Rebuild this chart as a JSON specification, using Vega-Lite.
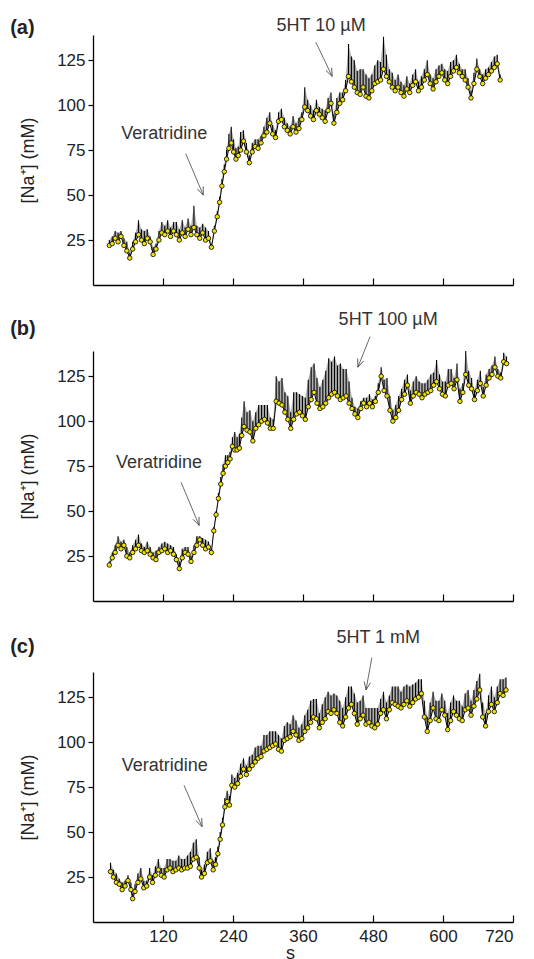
{
"$schema": "https://vega.github.io/schema/vega-lite/v6.json",
"padding": {"left": 10, "top": 17, "right": 5, "bottom": 5},
"background": "white",
"config": {
  "font": "Liberation Sans",
  "view": {"stroke": null},
  "axis": {"domainColor": "#000", "tickColor": "#000", "labelColor": "#222", "titleColor": "#222", "labelFontSize": 17, "titleFontSize": 18, "titleFontWeight": "normal", "grid": false, "domainWidth": 1.3, "tickWidth": 1.2}
},
"datasets": {
  "a": [
{"t":28,"y":22,"hi":25},{"t":33,"y":23,"hi":27},{"t":38,"y":26,"hi":30},{"t":43,"y":24,"hi":29},{"t":48,"y":27,"hi":30},{"t":53,"y":22,"hi":26},{"t":58,"y":19,"hi":24},{"t":63,"y":15,"hi":18},{"t":68,"y":20,"hi":24},{"t":73,"y":24,"hi":29},{"t":78,"y":28,"hi":36},{"t":83,"y":25,"hi":31},{"t":88,"y":23,"hi":30},{"t":93,"y":26,"hi":31},{"t":98,"y":24,"hi":27},{"t":103,"y":17,"hi":21},{"t":108,"y":20,"hi":23},{"t":113,"y":25,"hi":30},{"t":118,"y":29,"hi":35},{"t":123,"y":28,"hi":33},{"t":128,"y":30,"hi":36},{"t":133,"y":27,"hi":32},{"t":138,"y":30,"hi":35},{"t":143,"y":28,"hi":35},{"t":148,"y":25,"hi":31},{"t":153,"y":29,"hi":36},{"t":158,"y":27,"hi":32},{"t":163,"y":31,"hi":37},{"t":168,"y":28,"hi":33},{"t":173,"y":32,"hi":44},{"t":178,"y":28,"hi":33},{"t":183,"y":26,"hi":32},{"t":188,"y":29,"hi":34},{"t":193,"y":25,"hi":32},{"t":198,"y":26,"hi":30},{"t":203,"y":21,"hi":23},{"t":208,"y":30,"hi":33},{"t":213,"y":38,"hi":41},{"t":217,"y":46,"hi":49},{"t":221,"y":55,"hi":59},{"t":225,"y":63,"hi":67},{"t":229,"y":70,"hi":75},{"t":233,"y":76,"hi":84},{"t":237,"y":79,"hi":88},{"t":241,"y":74,"hi":81},{"t":245,"y":70,"hi":76},{"t":249,"y":72,"hi":77},{"t":253,"y":75,"hi":85},{"t":258,"y":80,"hi":86},{"t":263,"y":74,"hi":79},{"t":268,"y":68,"hi":72},{"t":273,"y":74,"hi":79},{"t":278,"y":77,"hi":81},{"t":283,"y":76,"hi":81},{"t":288,"y":79,"hi":83},{"t":293,"y":83,"hi":88},{"t":298,"y":85,"hi":93},{"t":303,"y":90,"hi":96},{"t":308,"y":84,"hi":89},{"t":313,"y":82,"hi":86},{"t":318,"y":91,"hi":96},{"t":323,"y":92,"hi":98},{"t":328,"y":88,"hi":93},{"t":333,"y":86,"hi":90},{"t":338,"y":84,"hi":88},{"t":343,"y":88,"hi":94},{"t":348,"y":85,"hi":90},{"t":353,"y":87,"hi":93},{"t":358,"y":92,"hi":96},{"t":363,"y":99,"hi":110},{"t":368,"y":97,"hi":103},{"t":373,"y":94,"hi":100},{"t":378,"y":92,"hi":97},{"t":383,"y":97,"hi":103},{"t":388,"y":95,"hi":99},{"t":393,"y":93,"hi":98},{"t":398,"y":91,"hi":97},{"t":403,"y":97,"hi":104},{"t":408,"y":101,"hi":107},{"t":413,"y":90,"hi":95},{"t":418,"y":96,"hi":104},{"t":423,"y":101,"hi":107},{"t":428,"y":103,"hi":107},{"t":433,"y":108,"hi":114},{"t":438,"y":116,"hi":134},{"t":443,"y":113,"hi":127},{"t":448,"y":110,"hi":125},{"t":453,"y":107,"hi":119},{"t":458,"y":106,"hi":120},{"t":463,"y":110,"hi":120},{"t":468,"y":105,"hi":117},{"t":473,"y":104,"hi":115},{"t":478,"y":108,"hi":117},{"t":483,"y":112,"hi":122},{"t":488,"y":113,"hi":125},{"t":493,"y":114,"hi":124},{"t":498,"y":120,"hi":138},{"t":503,"y":116,"hi":128},{"t":508,"y":113,"hi":120},{"t":513,"y":110,"hi":118},{"t":518,"y":108,"hi":114},{"t":523,"y":110,"hi":117},{"t":528,"y":107,"hi":113},{"t":533,"y":105,"hi":111},{"t":538,"y":109,"hi":116},{"t":543,"y":107,"hi":112},{"t":548,"y":111,"hi":117},{"t":553,"y":113,"hi":120},{"t":558,"y":108,"hi":113},{"t":563,"y":110,"hi":116},{"t":568,"y":114,"hi":120},{"t":573,"y":117,"hi":125},{"t":578,"y":112,"hi":117},{"t":583,"y":109,"hi":115},{"t":588,"y":113,"hi":120},{"t":593,"y":116,"hi":122},{"t":598,"y":118,"hi":123},{"t":603,"y":114,"hi":120},{"t":608,"y":112,"hi":119},{"t":613,"y":116,"hi":124},{"t":618,"y":119,"hi":125},{"t":623,"y":121,"hi":128},{"t":628,"y":118,"hi":123},{"t":633,"y":116,"hi":120},{"t":638,"y":114,"hi":120},{"t":643,"y":110,"hi":115},{"t":648,"y":104,"hi":108},{"t":653,"y":112,"hi":118},{"t":658,"y":120,"hi":126},{"t":663,"y":116,"hi":120},{"t":668,"y":112,"hi":117},{"t":673,"y":115,"hi":120},{"t":678,"y":117,"hi":121},{"t":683,"y":119,"hi":124},{"t":688,"y":121,"hi":127},{"t":693,"y":123,"hi":128},{"t":698,"y":114,"hi":117}
  ],
  "b": [
{"t":28,"y":20,"hi":22},{"t":33,"y":24,"hi":27},{"t":38,"y":27,"hi":31},{"t":43,"y":31,"hi":36},{"t":48,"y":29,"hi":33},{"t":53,"y":31,"hi":34},{"t":58,"y":25,"hi":30},{"t":63,"y":24,"hi":27},{"t":68,"y":27,"hi":31},{"t":73,"y":29,"hi":34},{"t":78,"y":31,"hi":37},{"t":83,"y":28,"hi":32},{"t":88,"y":27,"hi":30},{"t":93,"y":28,"hi":33},{"t":98,"y":26,"hi":30},{"t":103,"y":24,"hi":27},{"t":108,"y":23,"hi":28},{"t":113,"y":27,"hi":30},{"t":118,"y":28,"hi":32},{"t":123,"y":29,"hi":33},{"t":128,"y":27,"hi":32},{"t":133,"y":28,"hi":31},{"t":138,"y":26,"hi":30},{"t":143,"y":23,"hi":26},{"t":148,"y":18,"hi":22},{"t":153,"y":24,"hi":29},{"t":158,"y":27,"hi":30},{"t":163,"y":26,"hi":30},{"t":168,"y":22,"hi":25},{"t":173,"y":27,"hi":31},{"t":178,"y":31,"hi":36},{"t":183,"y":34,"hi":36},{"t":188,"y":31,"hi":35},{"t":193,"y":29,"hi":34},{"t":198,"y":30,"hi":33},{"t":203,"y":27,"hi":29},{"t":207,"y":39,"hi":41},{"t":211,"y":48,"hi":50},{"t":215,"y":57,"hi":60},{"t":219,"y":65,"hi":69},{"t":223,"y":71,"hi":76},{"t":227,"y":75,"hi":81},{"t":231,"y":77,"hi":81},{"t":235,"y":79,"hi":83},{"t":239,"y":86,"hi":91},{"t":243,"y":84,"hi":94},{"t":247,"y":84,"hi":91},{"t":251,"y":85,"hi":93},{"t":255,"y":92,"hi":102},{"t":259,"y":97,"hi":111},{"t":264,"y":95,"hi":105},{"t":269,"y":94,"hi":106},{"t":274,"y":89,"hi":100},{"t":279,"y":96,"hi":105},{"t":284,"y":98,"hi":109},{"t":289,"y":100,"hi":109},{"t":294,"y":101,"hi":109},{"t":299,"y":99,"hi":109},{"t":304,"y":96,"hi":102},{"t":309,"y":96,"hi":101},{"t":314,"y":111,"hi":125},{"t":319,"y":110,"hi":122},{"t":324,"y":109,"hi":124},{"t":329,"y":105,"hi":116},{"t":334,"y":101,"hi":114},{"t":339,"y":96,"hi":105},{"t":344,"y":101,"hi":116},{"t":349,"y":104,"hi":116},{"t":354,"y":105,"hi":115},{"t":359,"y":103,"hi":114},{"t":364,"y":101,"hi":113},{"t":369,"y":108,"hi":123},{"t":374,"y":112,"hi":130},{"t":379,"y":116,"hi":132},{"t":384,"y":110,"hi":124},{"t":389,"y":107,"hi":119},{"t":394,"y":108,"hi":123},{"t":399,"y":110,"hi":128},{"t":404,"y":113,"hi":135},{"t":409,"y":115,"hi":133},{"t":414,"y":116,"hi":136},{"t":419,"y":114,"hi":131},{"t":424,"y":112,"hi":132},{"t":429,"y":113,"hi":129},{"t":434,"y":114,"hi":129},{"t":439,"y":110,"hi":122},{"t":444,"y":107,"hi":113},{"t":449,"y":104,"hi":108},{"t":454,"y":102,"hi":107},{"t":459,"y":107,"hi":111},{"t":464,"y":110,"hi":113},{"t":469,"y":108,"hi":113},{"t":474,"y":110,"hi":115},{"t":479,"y":108,"hi":112},{"t":484,"y":111,"hi":114},{"t":489,"y":116,"hi":121},{"t":494,"y":125,"hi":130},{"t":499,"y":117,"hi":123},{"t":504,"y":114,"hi":124},{"t":509,"y":106,"hi":114},{"t":514,"y":100,"hi":106},{"t":519,"y":102,"hi":109},{"t":524,"y":106,"hi":114},{"t":529,"y":112,"hi":118},{"t":534,"y":115,"hi":123},{"t":539,"y":120,"hi":126},{"t":544,"y":110,"hi":117},{"t":549,"y":114,"hi":122},{"t":554,"y":116,"hi":125},{"t":559,"y":115,"hi":122},{"t":564,"y":113,"hi":121},{"t":569,"y":115,"hi":121},{"t":574,"y":116,"hi":123},{"t":579,"y":117,"hi":126},{"t":584,"y":120,"hi":127},{"t":589,"y":122,"hi":134},{"t":594,"y":118,"hi":126},{"t":599,"y":115,"hi":122},{"t":604,"y":114,"hi":122},{"t":609,"y":120,"hi":129},{"t":614,"y":121,"hi":129},{"t":619,"y":118,"hi":124},{"t":624,"y":123,"hi":132},{"t":629,"y":111,"hi":118},{"t":634,"y":116,"hi":121},{"t":639,"y":126,"hi":139},{"t":644,"y":120,"hi":128},{"t":649,"y":118,"hi":124},{"t":654,"y":112,"hi":117},{"t":659,"y":117,"hi":123},{"t":664,"y":121,"hi":128},{"t":669,"y":114,"hi":119},{"t":674,"y":120,"hi":126},{"t":679,"y":124,"hi":129},{"t":684,"y":126,"hi":131},{"t":689,"y":130,"hi":136},{"t":694,"y":125,"hi":129},{"t":699,"y":124,"hi":127},{"t":704,"y":133,"hi":138},{"t":709,"y":132,"hi":136}
  ],
  "c": [
{"t":30,"y":28,"hi":33},{"t":35,"y":25,"hi":29},{"t":40,"y":22,"hi":27},{"t":45,"y":21,"hi":24},{"t":50,"y":18,"hi":22},{"t":55,"y":20,"hi":23},{"t":60,"y":23,"hi":26},{"t":65,"y":18,"hi":22},{"t":68,"y":13,"hi":16},{"t":72,"y":17,"hi":21},{"t":77,"y":22,"hi":27},{"t":82,"y":24,"hi":30},{"t":87,"y":19,"hi":23},{"t":92,"y":20,"hi":23},{"t":97,"y":25,"hi":30},{"t":102,"y":22,"hi":26},{"t":107,"y":26,"hi":31},{"t":112,"y":29,"hi":35},{"t":117,"y":26,"hi":30},{"t":122,"y":25,"hi":30},{"t":127,"y":29,"hi":35},{"t":132,"y":30,"hi":35},{"t":137,"y":28,"hi":34},{"t":142,"y":29,"hi":34},{"t":147,"y":30,"hi":37},{"t":152,"y":29,"hi":35},{"t":157,"y":30,"hi":35},{"t":162,"y":30,"hi":37},{"t":167,"y":31,"hi":39},{"t":172,"y":35,"hi":44},{"t":177,"y":36,"hi":46},{"t":182,"y":30,"hi":36},{"t":186,"y":25,"hi":29},{"t":191,"y":27,"hi":32},{"t":196,"y":33,"hi":39},{"t":201,"y":34,"hi":41},{"t":206,"y":29,"hi":34},{"t":210,"y":32,"hi":36},{"t":214,"y":38,"hi":42},{"t":218,"y":46,"hi":50},{"t":222,"y":54,"hi":58},{"t":226,"y":64,"hi":69},{"t":230,"y":67,"hi":73},{"t":234,"y":65,"hi":70},{"t":238,"y":76,"hi":82},{"t":243,"y":75,"hi":80},{"t":248,"y":77,"hi":83},{"t":253,"y":81,"hi":88},{"t":258,"y":85,"hi":91},{"t":263,"y":82,"hi":87},{"t":268,"y":85,"hi":92},{"t":273,"y":87,"hi":93},{"t":278,"y":89,"hi":97},{"t":283,"y":91,"hi":98},{"t":288,"y":92,"hi":98},{"t":293,"y":95,"hi":104},{"t":298,"y":96,"hi":104},{"t":303,"y":97,"hi":106},{"t":308,"y":98,"hi":106},{"t":313,"y":99,"hi":106},{"t":318,"y":96,"hi":104},{"t":323,"y":95,"hi":102},{"t":328,"y":101,"hi":109},{"t":333,"y":102,"hi":111},{"t":338,"y":103,"hi":110},{"t":343,"y":106,"hi":115},{"t":348,"y":104,"hi":112},{"t":353,"y":101,"hi":108},{"t":358,"y":102,"hi":110},{"t":363,"y":106,"hi":115},{"t":368,"y":108,"hi":118},{"t":373,"y":111,"hi":123},{"t":378,"y":114,"hi":124},{"t":383,"y":113,"hi":124},{"t":388,"y":108,"hi":116},{"t":393,"y":111,"hi":121},{"t":398,"y":113,"hi":125},{"t":403,"y":117,"hi":128},{"t":408,"y":116,"hi":126},{"t":413,"y":118,"hi":127},{"t":418,"y":116,"hi":126},{"t":423,"y":111,"hi":123},{"t":428,"y":109,"hi":119},{"t":433,"y":114,"hi":125},{"t":438,"y":119,"hi":131},{"t":443,"y":121,"hi":131},{"t":448,"y":116,"hi":127},{"t":453,"y":110,"hi":122},{"t":458,"y":113,"hi":123},{"t":463,"y":115,"hi":126},{"t":468,"y":110,"hi":119},{"t":473,"y":111,"hi":119},{"t":478,"y":109,"hi":119},{"t":483,"y":108,"hi":119},{"t":488,"y":110,"hi":119},{"t":493,"y":116,"hi":124},{"t":498,"y":118,"hi":128},{"t":503,"y":113,"hi":122},{"t":508,"y":118,"hi":126},{"t":513,"y":122,"hi":131},{"t":518,"y":121,"hi":131},{"t":523,"y":120,"hi":131},{"t":528,"y":119,"hi":128},{"t":533,"y":121,"hi":131},{"t":538,"y":123,"hi":132},{"t":543,"y":120,"hi":131},{"t":548,"y":122,"hi":132},{"t":553,"y":124,"hi":133},{"t":558,"y":125,"hi":135},{"t":563,"y":127,"hi":135},{"t":568,"y":114,"hi":123},{"t":573,"y":106,"hi":114},{"t":578,"y":112,"hi":122},{"t":583,"y":119,"hi":128},{"t":588,"y":113,"hi":123},{"t":593,"y":112,"hi":123},{"t":598,"y":118,"hi":127},{"t":603,"y":115,"hi":123},{"t":608,"y":107,"hi":116},{"t":613,"y":112,"hi":122},{"t":618,"y":117,"hi":126},{"t":623,"y":115,"hi":123},{"t":628,"y":113,"hi":123},{"t":633,"y":112,"hi":120},{"t":638,"y":118,"hi":127},{"t":643,"y":119,"hi":129},{"t":648,"y":115,"hi":123},{"t":653,"y":120,"hi":129},{"t":658,"y":124,"hi":134},{"t":663,"y":129,"hi":138},{"t":668,"y":114,"hi":122},{"t":673,"y":109,"hi":116},{"t":678,"y":117,"hi":126},{"t":683,"y":121,"hi":131},{"t":688,"y":117,"hi":125},{"t":693,"y":122,"hi":131},{"t":698,"y":127,"hi":135},{"t":703,"y":126,"hi":135},{"t":708,"y":129,"hi":136}
  ],
  "txt": [
    {"p":"a","label":"Veratridine","t":122,"y":84},
    {"p":"a","label":"5HT 10 µM","t":391,"y":144},
    {"p":"b","label":"Veratridine","t":113,"y":77},
    {"p":"b","label":"5HT 100 µM","t":506,"y":156},
    {"p":"c","label":"Veratridine","t":123,"y":87},
    {"p":"c","label":"5HT 1 mM","t":489,"y":158}
  ],
  "lab": [
    {"p":"a","label":"(a)","t":-142,"y":143},
    {"p":"b","label":"(b)","t":-142,"y":151},
    {"p":"c","label":"(c)","t":-142,"y":153}
  ],
  "arr": [
    {"p":"a","k":"v","t":159,"y":73,"t2":189,"y2":50},
    {"p":"a","k":"h","t":382,"y":135,"t2":410,"y2":116},
    {"p":"b","k":"v","t":151,"y":66,"t2":182,"y2":42},
    {"p":"b","k":"h","t":475,"y":147,"t2":454,"y2":130},
    {"p":"c","k":"v","t":156,"y":76,"t2":187,"y2":53},
    {"p":"c","k":"h","t":478,"y":147,"t2":468,"y2":129}
  ]
},
"bounds": "flush",
"spacing": 66,
"vconcat": [
{
  "width": 420, "height": 250,
  "encoding": {
    "x": {"field": "t", "type": "quantitative", "scale": {"domain": [0, 720], "nice": false, "zero": false}, "axis": {"values": [120, 240, 360, 480, 600, 720], "labels": false, "tickSize": -7, "title": null}},
    "y": {"field": "y", "type": "quantitative", "scale": {"domain": [0, 139], "nice": false}, "axis": {"values": [25, 50, 75, 100, 125], "tickSize": 5, "labelPadding": 3, "title": "[Na⁺] (mM)", "titlePadding": 19}}
  },
  "layer": [
    {"data": {"name": "a"}, "mark": {"type": "area", "color": "#7a7a7a", "opacity": 0.6}, "encoding": {"y2": {"field": "hi"}}},
    {"data": {"name": "a"}, "mark": {"type": "rule", "color": "#000", "strokeWidth": 1.1}, "encoding": {"y2": {"field": "hi"}}},
    {"data": {"name": "a"}, "mark": {"type": "line", "color": "#000", "strokeWidth": 1}, "encoding": {}},
    {"data": {"name": "a"}, "mark": {"type": "point", "filled": true, "fill": "#f2e400", "stroke": "#000", "strokeWidth": 0.8, "size": 20, "opacity": 1}, "encoding": {}},
    {"data": {"name": "txt"}, "transform": [{"filter": "datum.p == 'a'"}], "mark": {"type": "text", "fontSize": 18, "color": "#333", "align": "center", "baseline": "middle"}, "encoding": {"text": {"field": "label"}}},
    {"data": {"name": "lab"}, "transform": [{"filter": "datum.p == 'a'"}], "mark": {"type": "text", "fontSize": 20, "fontWeight": "bold", "color": "#222", "align": "left", "baseline": "middle"}, "encoding": {"text": {"field": "label"}}},
    {"data": {"name": "arr"}, "transform": [{"filter": "datum.p == 'a'"}], "mark": {"type": "rule", "color": "#444", "strokeWidth": 0.8}, "encoding": {"x2": {"field": "t2"}, "y2": {"field": "y2"}}},
    {"data": {"name": "arr"}, "transform": [{"filter": "datum.p == 'a' && datum.k == 'v'"}], "mark": {"type": "point", "shape": "M -0.4 -1 L 0 0 L 0.4 -1", "filled": false, "stroke": "#444", "strokeWidth": 0.8, "size": 256, "angle": 338, "opacity": 1}, "encoding": {"x": {"field": "t2", "type": "quantitative"}, "y": {"field": "y2", "type": "quantitative"}}},
    {"data": {"name": "arr"}, "transform": [{"filter": "datum.p == 'a' && datum.k == 'h'"}], "mark": {"type": "point", "shape": "M -0.4 -1 L 0 0 L 0.4 -1", "filled": false, "stroke": "#444", "strokeWidth": 0.8, "size": 256, "angle": 335, "opacity": 1}, "encoding": {"x": {"field": "t2", "type": "quantitative"}, "y": {"field": "y2", "type": "quantitative"}}}
  ]
},
{
  "bounds": "flush",
  "spacing": 71,
  "vconcat": [
  {
    "width": 420, "height": 250,
    "encoding": {
      "x": {"field": "t", "type": "quantitative", "scale": {"domain": [0, 720], "nice": false, "zero": false}, "axis": {"values": [120, 240, 360, 480, 600, 720], "labels": false, "tickSize": -7, "title": null}},
      "y": {"field": "y", "type": "quantitative", "scale": {"domain": [0, 139], "nice": false}, "axis": {"values": [25, 50, 75, 100, 125], "tickSize": 5, "labelPadding": 3, "title": "[Na⁺] (mM)", "titlePadding": 19}}
    },
    "layer": [
      {"data": {"name": "b"}, "mark": {"type": "area", "color": "#7a7a7a", "opacity": 0.6}, "encoding": {"y2": {"field": "hi"}}},
      {"data": {"name": "b"}, "mark": {"type": "rule", "color": "#000", "strokeWidth": 1.1}, "encoding": {"y2": {"field": "hi"}}},
      {"data": {"name": "b"}, "mark": {"type": "line", "color": "#000", "strokeWidth": 1}, "encoding": {}},
      {"data": {"name": "b"}, "mark": {"type": "point", "filled": true, "fill": "#f2e400", "stroke": "#000", "strokeWidth": 0.8, "size": 20, "opacity": 1}, "encoding": {}},
      {"data": {"name": "txt"}, "transform": [{"filter": "datum.p == 'b'"}], "mark": {"type": "text", "fontSize": 18, "color": "#333", "align": "center", "baseline": "middle"}, "encoding": {"text": {"field": "label"}}},
      {"data": {"name": "lab"}, "transform": [{"filter": "datum.p == 'b'"}], "mark": {"type": "text", "fontSize": 20, "fontWeight": "bold", "color": "#222", "align": "left", "baseline": "middle"}, "encoding": {"text": {"field": "label"}}},
      {"data": {"name": "arr"}, "transform": [{"filter": "datum.p == 'b'"}], "mark": {"type": "rule", "color": "#444", "strokeWidth": 0.8}, "encoding": {"x2": {"field": "t2"}, "y2": {"field": "y2"}}},
      {"data": {"name": "arr"}, "transform": [{"filter": "datum.p == 'b' && datum.k == 'v'"}], "mark": {"type": "point", "shape": "M -0.4 -1 L 0 0 L 0.4 -1", "filled": false, "stroke": "#444", "strokeWidth": 0.8, "size": 256, "angle": 337, "opacity": 1}, "encoding": {"x": {"field": "t2", "type": "quantitative"}, "y": {"field": "y2", "type": "quantitative"}}},
      {"data": {"name": "arr"}, "transform": [{"filter": "datum.p == 'b' && datum.k == 'h'"}], "mark": {"type": "point", "shape": "M -0.4 -1 L 0 0 L 0.4 -1", "filled": false, "stroke": "#444", "strokeWidth": 0.8, "size": 256, "angle": 21, "opacity": 1}, "encoding": {"x": {"field": "t2", "type": "quantitative"}, "y": {"field": "y2", "type": "quantitative"}}}
    ]
  },
  {
    "width": 420, "height": 250,
    "encoding": {
      "x": {"field": "t", "type": "quantitative", "scale": {"domain": [0, 720], "nice": false, "zero": false}, "axis": {"values": [120, 240, 360, 480, 600, 720], "labels": true, "tickSize": -7, "labelPadding": 13, "title": "s", "titlePadding": 0, "titleX": 197}},
      "y": {"field": "y", "type": "quantitative", "scale": {"domain": [0, 139], "nice": false}, "axis": {"values": [25, 50, 75, 100, 125], "tickSize": 5, "labelPadding": 3, "title": "[Na⁺] (mM)", "titlePadding": 19}}
    },
    "layer": [
      {"data": {"name": "c"}, "mark": {"type": "area", "color": "#7a7a7a", "opacity": 0.6}, "encoding": {"y2": {"field": "hi"}}},
      {"data": {"name": "c"}, "mark": {"type": "rule", "color": "#000", "strokeWidth": 1.1}, "encoding": {"y2": {"field": "hi"}}},
      {"data": {"name": "c"}, "mark": {"type": "line", "color": "#000", "strokeWidth": 1}, "encoding": {}},
      {"data": {"name": "c"}, "mark": {"type": "point", "filled": true, "fill": "#f2e400", "stroke": "#000", "strokeWidth": 0.8, "size": 20, "opacity": 1}, "encoding": {}},
      {"data": {"name": "txt"}, "transform": [{"filter": "datum.p == 'c'"}], "mark": {"type": "text", "fontSize": 18, "color": "#333", "align": "center", "baseline": "middle"}, "encoding": {"text": {"field": "label"}}},
      {"data": {"name": "lab"}, "transform": [{"filter": "datum.p == 'c'"}], "mark": {"type": "text", "fontSize": 20, "fontWeight": "bold", "color": "#222", "align": "left", "baseline": "middle"}, "encoding": {"text": {"field": "label"}}},
      {"data": {"name": "arr"}, "transform": [{"filter": "datum.p == 'c'"}], "mark": {"type": "rule", "color": "#444", "strokeWidth": 0.8}, "encoding": {"x2": {"field": "t2"}, "y2": {"field": "y2"}}},
      {"data": {"name": "arr"}, "transform": [{"filter": "datum.p == 'c' && datum.k == 'v'"}], "mark": {"type": "point", "shape": "M -0.4 -1 L 0 0 L 0.4 -1", "filled": false, "stroke": "#444", "strokeWidth": 0.8, "size": 256, "angle": 336, "opacity": 1}, "encoding": {"x": {"field": "t2", "type": "quantitative"}, "y": {"field": "y2", "type": "quantitative"}}},
      {"data": {"name": "arr"}, "transform": [{"filter": "datum.p == 'c' && datum.k == 'h'"}], "mark": {"type": "point", "shape": "M -0.4 -1 L 0 0 L 0.4 -1", "filled": false, "stroke": "#444", "strokeWidth": 0.8, "size": 256, "angle": 10, "opacity": 1}, "encoding": {"x": {"field": "t2", "type": "quantitative"}, "y": {"field": "y2", "type": "quantitative"}}}
    ]
  }
  ]
}
]
}
